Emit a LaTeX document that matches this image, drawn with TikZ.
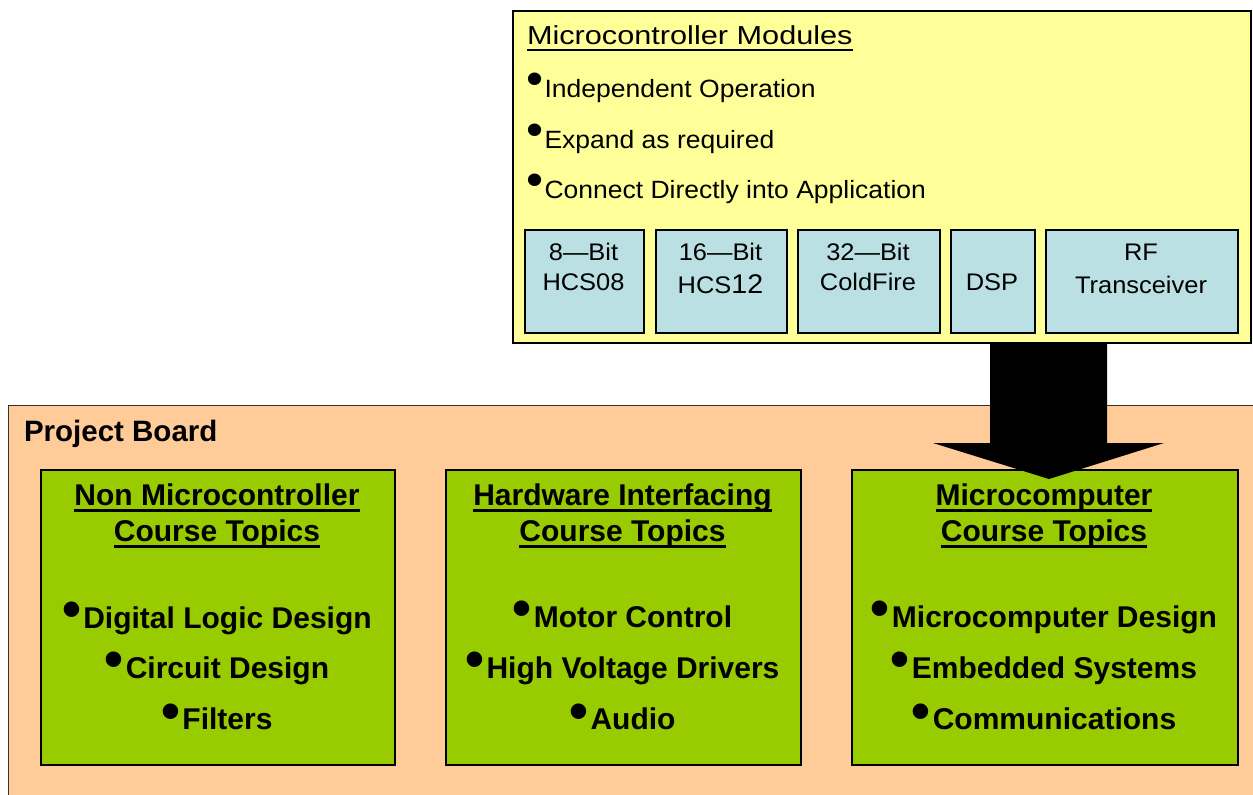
\documentclass[tikz,border=0pt]{standalone}
\usepackage{fontspec}
\setmainfont{Liberation Sans}
\newfontfamily\ftitle[FakeStretch=1.18]{Liberation Sans}
\newfontfamily\fbody[FakeStretch=1.06]{Liberation Sans}
\definecolor{ylw}{RGB}{255,255,153}
\definecolor{modc}{RGB}{187,224,227}
\definecolor{org}{RGB}{255,204,153}
\definecolor{grn}{RGB}{153,204,0}
\newcommand{\bulS}{\makebox[18.5pt][l]{\raisebox{2.5pt}{\fontsize{46}{46}\selectfont •}}}
\newcommand{\bulB}{\makebox[21pt][l]{\raisebox{0.5pt}{\fontsize{54}{54}\selectfont •}}}
\newcommand{\szT}{\ftitle\fontsize{26}{26}\selectfont}
\newcommand{\szS}{\fbody\fontsize{25}{25}\selectfont}
\newcommand{\szM}{\fbody\fontsize{24}{24}\selectfont}
\newcommand{\szB}{\bfseries\fontsize{30}{30}\selectfont}
\begin{document}
\begin{tikzpicture}[x=1pt,y=-1pt,
  txt/.style={inner sep=0pt, outer sep=0pt},
  boardbox/.style={draw=black!80, line width=1.2pt, fill=org, anchor=north west, inner sep=0pt},
  ybox/.style={draw=black, line width=1.8pt, fill=ylw, anchor=north west, inner sep=0pt},
  modbox/.style={draw=black, line width=1.8pt, fill=modc, anchor=north west, inner sep=0pt, minimum height=103pt},
  gbox/.style={draw=black, line width=1.8pt, fill=grn, anchor=north west, inner sep=0pt, minimum height=295pt},
  ul/.style={line width=2pt},
  ulB/.style={line width=3pt}]
\useasboundingbox (0,0) rectangle (1253,795);
\clip (0,0) rectangle (1253,795);
% project board
\node[boardbox, minimum width=1265pt, minimum height=400pt] (board) at (8,405) {};
\node[txt, anchor=base west] (pb) at (24,441) {\bfseries\fontsize{29.5}{29.5}\selectfont Project Board};
% green boxes
\node[gbox, minimum width=354pt] (g1) at (40,469) {};
\node[gbox, minimum width=355pt] (g2) at (445,469) {};
\node[gbox, minimum width=386pt] (g3) at (851,469) {};
% green box 1 text
\node[txt, anchor=base] (g1t1) at (217,505) {\szB Non Microcontroller};
\node[txt, anchor=base] (g1t2) at (217,541) {\szB Course Topics};
\node[txt, anchor=base] (g1b1) at (217,628) {\szB\bulB Digital Logic Design};
\node[txt, anchor=base] (g1b2) at (217,678) {\szB\bulB Circuit Design};
\node[txt, anchor=base] (g1b3) at (217,729.5) {\szB\bulB Filters};
% green box 2 text
\node[txt, anchor=base] (g2t1) at (622.5,505) {\szB Hardware Interfacing};
\node[txt, anchor=base] (g2t2) at (622.5,541) {\szB Course Topics};
\node[txt, anchor=base] (g2b1) at (622.5,627) {\szB\bulB Motor Control};
\node[txt, anchor=base] (g2b2) at (622.5,678) {\szB\bulB High Voltage Drivers};
\node[txt, anchor=base] (g2b3) at (622.5,729.5) {\szB\bulB Audio};
% green box 3 text
\node[txt, anchor=base] (g3t1) at (1044,505) {\szB Microcomputer};
\node[txt, anchor=base] (g3t2) at (1044,541) {\szB Course Topics};
\node[txt, anchor=base] (g3b1) at (1044,627) {\szB\bulB Microcomputer Design};
\node[txt, anchor=base] (g3b2) at (1044,678) {\szB\bulB Embedded Systems};
\node[txt, anchor=base] (g3b3) at (1044,729.5) {\szB\bulB Communications};
% underlines of green titles
\foreach \n in {g1t1,g1t2,g2t1,g2t2,g3t1,g3t2}
  \draw[ulB] ([yshift=-5pt]\n.base west) -- ([yshift=-5pt]\n.base east);
% microcontroller modules box
\node[ybox, minimum width=738pt, minimum height=332pt] (ym) at (512,10) {};
\node[txt, anchor=base west] (ymt) at (527,44.5) {\szT Microcontroller Modules};
\draw[ul] ([yshift=-5pt]ymt.base west) -- ([yshift=-5pt]ymt.base east);
\node[txt, anchor=base west] (yb1) at (526,97.3) {\szS\bulS Independent Operation};
\node[txt, anchor=base west] (yb2) at (526,148) {\szS\bulS Expand as required};
\node[txt, anchor=base west] (yb3) at (526,198) {\szS\bulS Connect Directly into Application};
% module boxes
\node[modbox, minimum width=119pt] (m1) at (524,229) {};
\node[modbox, minimum width=131pt] (m2) at (655,229) {};
\node[modbox, minimum width=142pt] (m3) at (797,229) {};
\node[modbox, minimum width=84pt] (m4) at (950,229) {};
\node[modbox, minimum width=192pt] (m5) at (1045,229) {};
\node[txt, anchor=base] (m1a) at (583.5,260) {\szM 8—Bit};
\node[txt, anchor=base] (m1b) at (583.5,290.5) {\szM HCS08};
\node[txt, anchor=base] (m2a) at (720.5,260) {\szM 16—Bit};
\node[txt, anchor=base] (m2b) at (720.5,293) {\szM HCS{\fontsize{27}{27}\selectfont 12}};
\node[txt, anchor=base] (m3a) at (868,260) {\szM 32—Bit};
\node[txt, anchor=base] (m3b) at (868,290.5) {\szM ColdFire};
\node[txt, anchor=base] (m4a) at (992,290.5) {\szM DSP};
\node[txt, anchor=base] (m5a) at (1141,260) {\szM RF};
\node[txt, anchor=base] (m5b) at (1141,293) {\szM Transceiver};
% block arrow from modules to microcomputer topics
\fill[black] (990,343) -- (1107,343) -- (1107,443) -- (1164,443) -- (1049,479) -- (933,443) -- (990,443) -- cycle;
\end{tikzpicture}
\end{document}
